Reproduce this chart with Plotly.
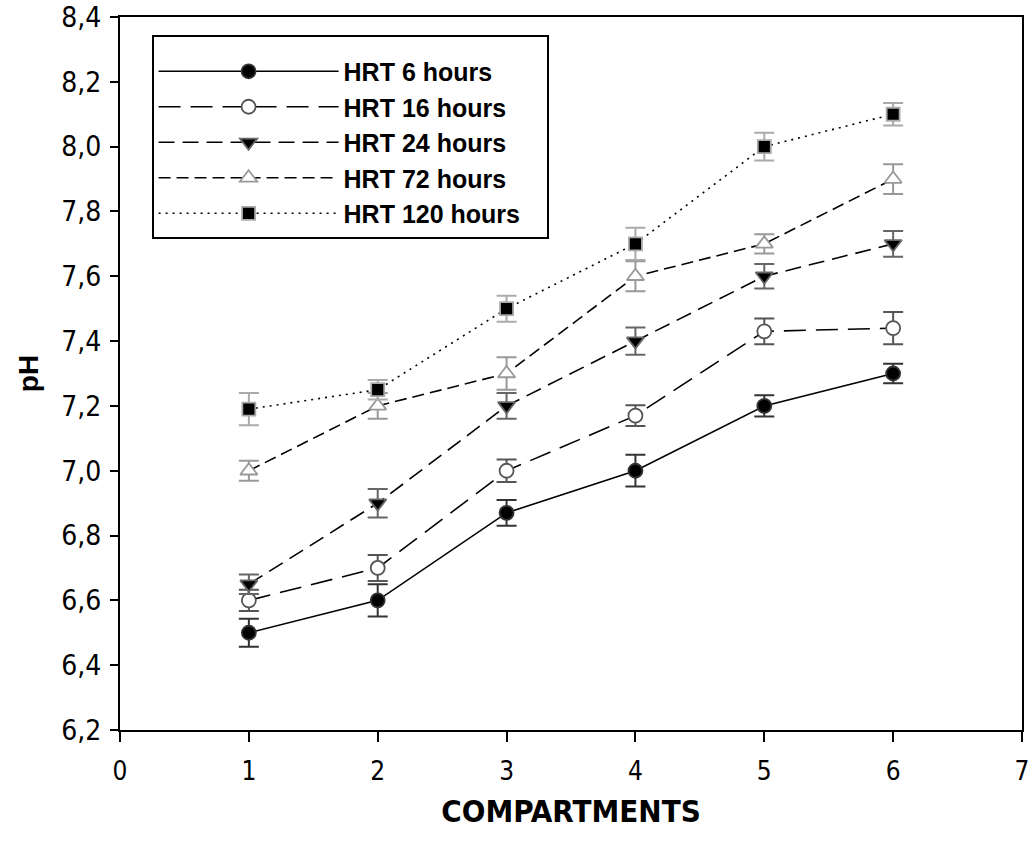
import plotly.graph_objects as go

compartments = [1, 2, 3, 4, 5, 6]
series_names = ["HRT 6 hours", "HRT 16 hours", "HRT 24 hours", "HRT 72 hours", "HRT 120 hours"]
ph_6 = [6.50, 6.60, 6.87, 7.00, 7.20, 7.30]
err_6 = [0.043, 0.05, 0.04, 0.049, 0.033, 0.03]
ph_16 = [6.60, 6.70, 7.00, 7.17, 7.43, 7.44]
err_16 = [0.033, 0.04, 0.035, 0.032, 0.04, 0.05]
ph_24 = [6.65, 6.90, 7.20, 7.40, 7.60, 7.70]
err_24 = [0.03, 0.044, 0.04, 0.042, 0.038, 0.04]
ph_72 = [7.00, 7.20, 7.30, 7.60, 7.70, 7.90]
err_72 = [0.031, 0.04, 0.05, 0.046, 0.03, 0.046]
ph_120 = [7.19, 7.25, 7.50, 7.70, 8.00, 8.10]
err_120 = [0.05, 0.03, 0.04, 0.05, 0.043, 0.035]

y_ticks = [6.2, 6.4, 6.6, 6.8, 7.0, 7.2, 7.4, 7.6, 7.8, 8.0, 8.2, 8.4]
y_tick_labels = ["6,2", "6,4", "6,6", "6,8", "7,0", "7,2", "7,4", "7,6", "7,8", "8,0", "8,2", "8,4"]

values = [ph_6, ph_16, ph_24, ph_72, ph_120]
errors = [err_6, err_16, err_24, err_72, err_120]
styles = [
    dict(dash="solid", symbol="circle", fill="#000000", edge="#333333", err="#333333", size=14),
    dict(dash="22px,10px", symbol="circle", fill="#ffffff", edge="#555555", err="#555555", size=14),
    dict(dash="16px,8px", symbol="triangle-down", fill="#000000", edge="#666666", err="#666666", size=15),
    dict(dash="12px,6px", symbol="triangle-up", fill="#ffffff", edge="#999999", err="#999999", size=15),
    dict(dash="2px,5px", symbol="square", fill="#000000", edge="#aaaaaa", err="#aaaaaa", size=13),
]

NARROW = "Liberation Sans Narrow, DejaVu Sans Condensed, Liberation Sans, Arial, sans-serif"
REG = "Liberation Sans, Arial, sans-serif"

fig = go.Figure()
for name, vals, errs, st in zip(series_names, values, errors, styles):
    fig.add_trace(go.Scatter(
        x=compartments, y=vals, name="<b>" + name + "</b>\u00a0\u00a0\u00a0",
        mode="lines+markers",
        line=dict(color="black", width=1.6, dash=st["dash"]),
        marker=dict(symbol=st["symbol"], size=st["size"], color=st["fill"],
                    line=dict(color=st["edge"], width=1.8)),
        error_y=dict(type="data", array=errs, visible=True, color=st["err"],
                     thickness=2, width=10),
    ))

fig.update_layout(
    width=1032, height=850,
    margin=dict(l=120, r=10, t=17, b=120, autoexpand=False),
    paper_bgcolor="white", plot_bgcolor="white",
    showlegend=True,
    legend=dict(
        x=0.035, y=0.975, xanchor="left", yanchor="top",
        bordercolor="black", borderwidth=2, bgcolor="white",
        font=dict(family=REG, size=25, color="black"),
        itemwidth=180,
        title=dict(text=" ", font=dict(size=9)),
    ),
    xaxis=dict(
        range=[0, 7], tickmode="array", tickvals=[0, 1, 2, 3, 4, 5, 6, 7],
        ticks="outside", ticklen=10, tickwidth=1.5, tickcolor="black",
        showline=True, linecolor="black", linewidth=2, mirror=True,
        showgrid=False, zeroline=False, automargin=False,
        ticklabelstandoff=7,
        tickfont=dict(family=NARROW, size=26, color="black"),
        title=dict(text="<b>COMPARTMENTS</b>",
                   font=dict(family=NARROW, size=31, color="black")),
    ),
    yaxis=dict(
        range=[6.2, 8.4], tickmode="array", tickvals=y_ticks, ticktext=y_tick_labels,
        ticks="outside", ticklen=8, tickwidth=1.5, tickcolor="black",
        showline=True, linecolor="black", linewidth=2, mirror=True,
        showgrid=False, zeroline=False, automargin=False,
        ticklabelstandoff=3,
        tickfont=dict(family=NARROW, size=28, color="black"),
        title=dict(text="<b>pH</b>",
                   font=dict(family=REG, size=28, color="black")),
    ),
)

fig.write_html("out.html")
